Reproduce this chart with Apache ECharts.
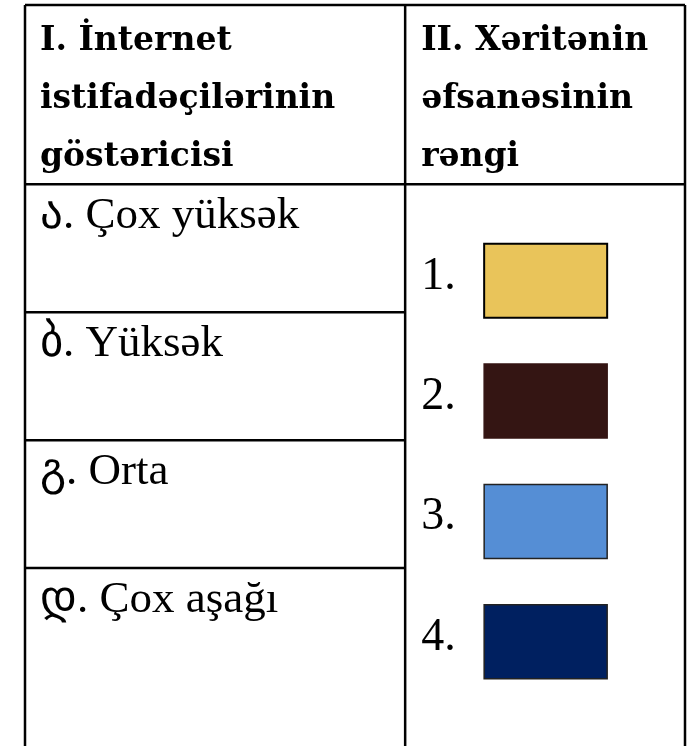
<!DOCTYPE html>
<html>
<head>
<meta charset="utf-8">
<script src="https://cdn.jsdelivr.net/npm/echarts@6/dist/echarts.min.js"></script>
<style>
  html, body { margin: 0; padding: 0; background: #fff; }
  #main { width: 693px; height: 746px; }
</style>
</head>
<body>
<div id="main"></div>
<script>
// cədvəlin mətnləri
var headerLeft = ['I. İnternet', 'istifadəçilərinin', 'göstəricisi'];
var headerRight = ['II. Xəritənin', 'əfsanəsinin', 'rəngi'];
var levelLetters = ['ა', 'ბ', 'გ', 'დ'];
var levelNames = ['Çox yüksək', 'Yüksək', 'Orta', 'Çox aşağı'];
var legendNumbers = ['1.', '2.', '3.', '4.'];
var legendColors = ['#E9C45A', '#341513', '#558ED5', '#002060'];

// layout (row units: 1 = one body row)
var headerSpan = 1.4;
var splitX = 0.576;
var legendStart = 2.155;
var legendStep = 0.94;

var headFont = '"DejaVu Serif", serif';
var bodyFont = '"Liberation Serif", "Times New Roman", serif';

var chart = echarts.init(document.getElementById('main'));

function line(p1, p2) {
    return {
        type: 'line',
        shape: { x1: p1[0], y1: p1[1], x2: p2[0], y2: p2[1] },
        style: { stroke: '#000', lineWidth: 2.5 }
    };
}

var option = {
    animation: false,
    grid: { left: 25, right: 8, top: 5, bottom: 0 },
    xAxis: { type: 'value', min: 0, max: 1, show: false },
    yAxis: { type: 'value', min: 0, max: 5.79, inverse: true, show: false },
    series: [
        {
            // çərçivə və başlıq
            type: 'custom',
            data: [[0, 0]],
            renderItem: function (params, api) {
                var tl = api.coord([0, 0]);
                var tr = api.coord([1, 0]);
                var bl = api.coord([0, 5.79]);
                var br = api.coord([1, 5.79]);
                var mt = api.coord([splitX, 0]);
                var mb = api.coord([splitX, 5.79]);
                var hl = api.coord([0, headerSpan]);
                var hr = api.coord([1, headerSpan]);
                var kids = [
                    line(tl, tr), line(tl, bl), line(tr, br), line(mt, mb), line(hl, hr)
                ];
                headerLeft.forEach(function (t, i) {
                    kids.push({
                        type: 'text',
                        style: {
                            text: t, x: tl[0] + 15, y: tl[1] + 20 + i * 58,
                            font: 'bold 33px ' + headFont, fill: '#000',
                            verticalAlign: 'top'
                        }
                    });
                });
                headerRight.forEach(function (t, i) {
                    kids.push({
                        type: 'text',
                        style: {
                            text: t, x: mt[0] + 16, y: mt[1] + 20 + i * 58,
                            font: 'bold 33px ' + headFont, fill: '#000',
                            verticalAlign: 'top'
                        }
                    });
                });
                return { type: 'group', children: kids };
            }
        },
        {
            // sol sütun: göstəricilər
            type: 'custom',
            data: levelNames.map(function (n, i) { return [i, n]; }),
            renderItem: function (params, api) {
                var i = api.value(0);
                var top = headerSpan + i;
                var a = api.coord([0, top]);
                var b = api.coord([splitX, top]);
                var kids = [];
                if (i > 0) kids.push(line(a, b));
                kids.push({
                    type: 'text',
                    style: {
                        text: levelLetters[i] + '. ' + levelNames[i],
                        x: a[0] + 15, y: a[1] + 10,
                        font: '45px ' + bodyFont, fill: '#000',
                        verticalAlign: 'top'
                    }
                });
                return { type: 'group', children: kids };
            }
        },
        {
            // sağ sütun: rəng açarı
            type: 'custom',
            data: legendNumbers.map(function (n, i) { return [i, n]; }),
            renderItem: function (params, api) {
                var i = api.value(0);
                var c = legendStart + i * legendStep;
                var p = api.coord([splitX, c]);
                return {
                    type: 'group',
                    children: [
                        {
                            type: 'text',
                            style: {
                                text: legendNumbers[i], x: p[0] + 16, y: p[1] - 27,
                                font: '46px ' + bodyFont, fill: '#000',
                                verticalAlign: 'top'
                            }
                        },
                        {
                            type: 'rect',
                            shape: { x: p[0] + 79, y: p[1] - 37, width: 123, height: 74 },
                            style: {
                                fill: legendColors[i],
                                stroke: i === 1 ? legendColors[i] : (i === 0 ? '#000' : '#222'),
                                lineWidth: i === 0 ? 2 : 1.5
                            }
                        }
                    ]
                };
            }
        }
    ]
};

chart.setOption(option);
</script>
</body>
</html>
